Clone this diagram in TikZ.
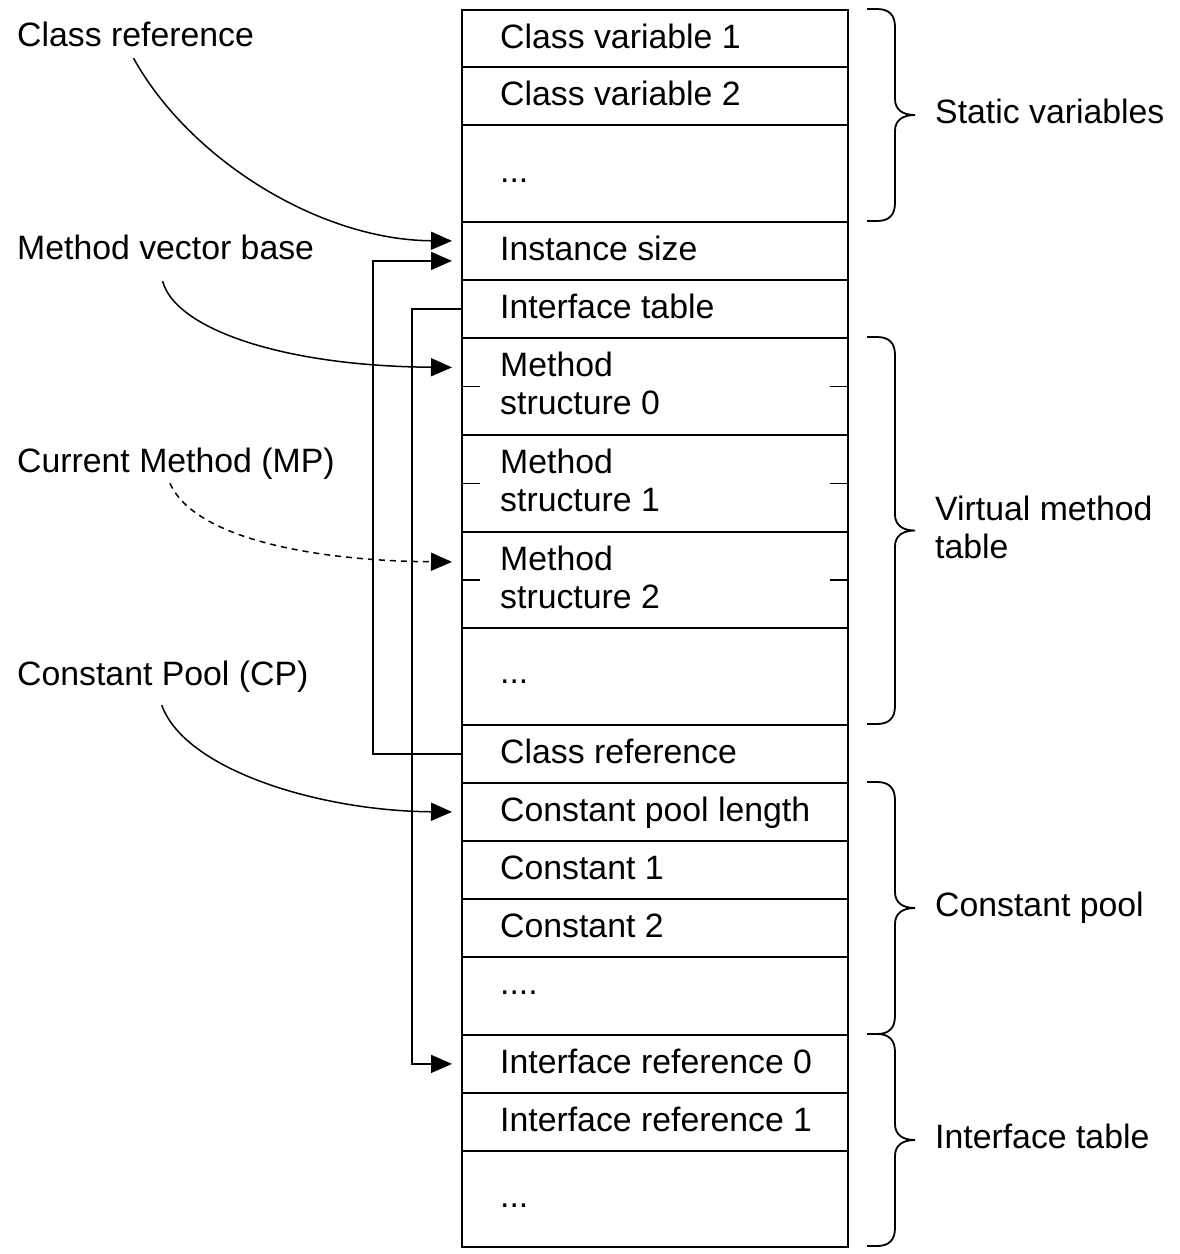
\documentclass[tikz,border=0pt]{standalone}
\usepackage{fontspec}
\setmainfont{Liberation Sans}
\usetikzlibrary{arrows.meta}
\newcommand{\jbrace}[2]{%
  \draw[bracestyle] (867,#1) -- (877,#1)
    .. controls (889,#1) and (895,{#1+6}) .. (895,{#1+18})
    -- (895,{(#1+#2)/2-16})
    .. controls (895,{(#1+#2)/2-5}) and (903,{(#1+#2)/2}) .. (915,{(#1+#2)/2})
    .. controls (903,{(#1+#2)/2}) and (895,{(#1+#2)/2+5}) .. (895,{(#1+#2)/2+16})
    -- (895,{#2-18})
    .. controls (895,{#2-6}) and (889,#2) .. (877,#2) -- (867,#2);}
\begin{document}
\begin{tikzpicture}[x=1pt,y=-1pt,
  every node/.style={font=\fontsize{33.8}{38}\selectfont},
  cell/.style={draw, line width=1.8pt, minimum width=386pt, inner sep=0pt, anchor=north west},
  ctext/.style={inner sep=0pt, anchor=west, text height=20pt, text depth=0pt},
  mtext/.style={inner sep=0pt, anchor=west, align=left, yshift=2.5pt},
  dots/.style={inner sep=0pt, anchor=base west},
  lbl/.style={inner sep=0pt, anchor=west, text height=20pt, text depth=0pt},
  arr/.style={line width=1.5pt, -{Triangle[length=21pt,width=18pt]}},
  tick/.style={line width=1.8pt},
  bracestyle/.style={line width=1.8pt}]
\useasboundingbox (0,0) rectangle (1180,1254);

% cells
\node[cell, minimum height=57pt] (c1) at (461,9) {};
\node[cell, minimum height=58pt] (c2) at (461,66) {};
\node[cell, minimum height=97pt] (c3) at (461,124) {};
\node[cell, minimum height=58pt] (c4) at (461,221) {};
\node[cell, minimum height=58pt] (c5) at (461,279) {};
\node[cell, minimum height=97pt] (c6) at (461,337) {};
\node[cell, minimum height=97pt] (c7) at (461,434) {};
\node[cell, minimum height=96pt] (c8) at (461,531) {};
\node[cell, minimum height=97pt] (c9) at (461,627) {};
\node[cell, minimum height=58pt] (c10) at (461,724) {};
\node[cell, minimum height=58pt] (c11) at (461,782) {};
\node[cell, minimum height=58pt] (c12) at (461,840) {};
\node[cell, minimum height=58pt] (c13) at (461,898) {};
\node[cell, minimum height=78pt] (c14) at (461,956) {};
\node[cell, minimum height=58pt] (c15) at (461,1034) {};
\node[cell, minimum height=58pt] (c16) at (461,1092) {};
\node[cell, minimum height=96pt] (c17) at (461,1150) {};

% cell texts
\node[ctext] (t1) at ([xshift=39pt]c1.west) {Class variable 1};
\node[ctext] (t2) at ([xshift=39pt]c2.west) {Class variable 2};
\node[dots] (t3) at ([xshift=39pt,yshift=-9.5pt]c3.west) {...};
\node[ctext] (t4) at ([xshift=39pt]c4.west) {Instance size};
\node[ctext] (t5) at ([xshift=39pt]c5.west) {Interface table};
\node[mtext] (t6) at ([xshift=39pt]c6.west) {Method\\structure 0};
\node[mtext] (t7) at ([xshift=39pt]c7.west) {Method\\structure 1};
\node[mtext] (t8) at ([xshift=39pt]c8.west) {Method\\structure 2};
\node[dots] (t9) at ([xshift=39pt,yshift=-7pt]c9.west) {...};
\node[ctext] (t10) at ([xshift=39pt]c10.west) {Class reference};
\node[ctext] (t11) at ([xshift=39pt]c11.west) {Constant pool length};
\node[ctext] (t12) at ([xshift=39pt]c12.west) {Constant 1};
\node[ctext] (t13) at ([xshift=39pt]c13.west) {Constant 2};
\node[dots] (t14) at ([xshift=39pt,yshift=1pt]c14.west) {....};
\node[ctext] (t15) at ([xshift=39pt]c15.west) {Interface reference 0};
\node[ctext] (t16) at ([xshift=39pt]c16.west) {Interface reference 1};
\node[dots] (t17) at ([xshift=39pt,yshift=-9pt]c17.west) {...};

% ticks in method structures
\foreach \c in {c6,c7,c8}{
  \draw[tick] (\c.west) -- ++(19,0);
  \draw[tick] (\c.east) -- ++(-19,0);
}

% left labels
\node[lbl] (l1) at (17,36) {Class reference};
\node[lbl] (l2) at (17,249) {Method vector base};
\node[lbl] (l3) at (17,462) {Current Method (MP)};
\node[lbl] (l4) at (17,675) {Constant Pool (CP)};

% right labels
\node[lbl] (r1) at (935,113) {Static variables};
\node[mtext] (r2) at (935,530) {Virtual method\\table};
\node[lbl] (r3) at (935,906) {Constant pool};
\node[lbl] (r4) at (935,1138) {Interface table};

% braces
\jbrace{9}{221}
\jbrace{337}{724}
\jbrace{782}{1034}
\jbrace{1034}{1246}

% curved arrows
\draw[arr] ([xshift=-2pt,yshift=-12pt]l1.south) .. controls (190,160) and (320,240) .. ([xshift=-9pt,yshift=10pt]c4.west);
\draw[arr] ([xshift=-3pt,yshift=-22pt]l2.south) .. controls (175,328) and (280,366) .. ([xshift=-9pt,yshift=19pt]c6.west);
\draw[arr, dash pattern=on 6pt off 5pt] ([xshift=-6pt,yshift=-11pt]l3.south) .. controls (195,540) and (320,561) .. ([xshift=-9pt,yshift=18pt]c8.west);
\draw[arr] ([xshift=-1pt,yshift=-20pt]l4.south) .. controls (185,770) and (320,811) .. ([xshift=-9pt]c11.west);

% orthogonal connectors
\draw[arr] (c10.west) -- ++(-88,0) |- ([xshift=-9pt,yshift=-10pt]c4.west);
\draw[arr] (c5.west) -- ++(-49,0) |- ([xshift=-9pt]c15.west);
\end{tikzpicture}
\end{document}
